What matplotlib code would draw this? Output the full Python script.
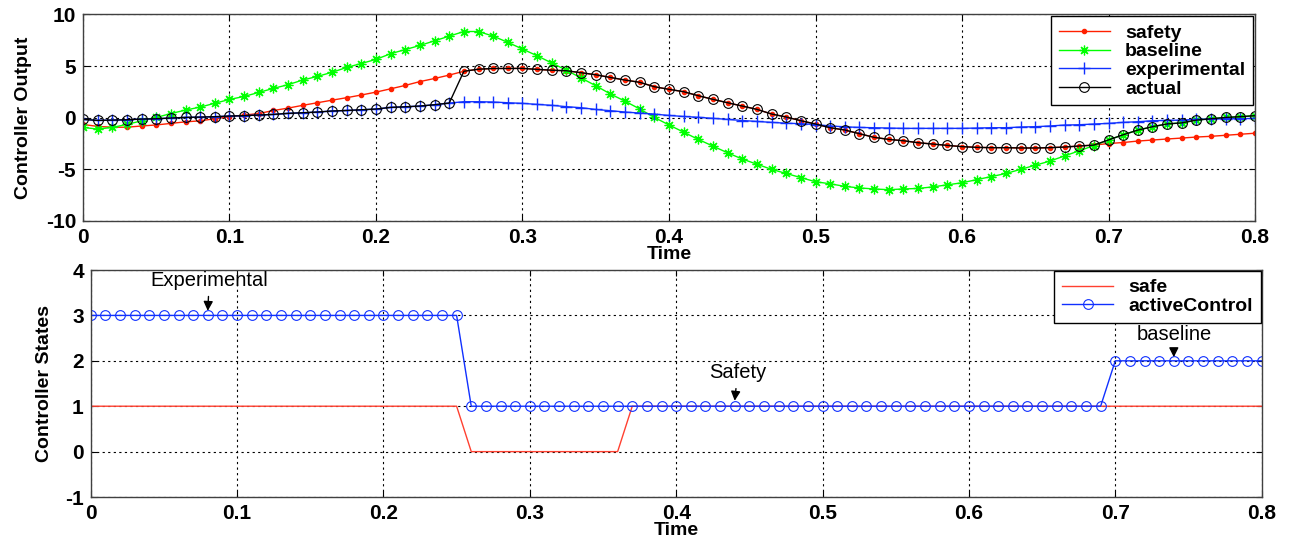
import matplotlib.pyplot as plt
import numpy as np

plt.rcParams['font.family'] = ['Liberation Sans', 'DejaVu Sans']
plt.rcParams['axes.unicode_minus'] = False

# sample times (0 .. 0.8 s, 0.01 s step)
time = np.arange(81) / 100.0

safety = [-0.65, -0.84, -0.92, -0.92, -0.80, -0.70, -0.55, -0.40, -0.30, -0.10,
          0.10, 0.26, 0.40, 0.70, 0.93, 1.20, 1.45, 1.70, 1.94, 2.20,
          2.48, 2.80, 3.13, 3.50, 3.80, 4.13, 4.50, 4.70, 4.77, 4.77,
          4.78, 4.68, 4.60, 4.55, 4.36, 4.16, 3.90, 3.65, 3.43, 3.00,
          2.75, 2.52, 2.13, 1.78, 1.45, 1.13, 0.81, 0.36, 0.07, -0.29,
          -0.61, -0.97, -1.19, -1.55, -1.90, -2.10, -2.23, -2.42, -2.55, -2.68,
          -2.80, -2.87, -2.90, -2.90, -2.93, -2.93, -2.90, -2.84, -2.74, -2.65,
          -2.50, -2.40, -2.26, -2.16, -2.06, -1.97, -1.87, -1.80, -1.70, -1.60,
          -1.50]

baseline = [-0.94, -1.10, -0.94, -0.65, -0.30, 0.03, 0.40, 0.74, 1.03, 1.40,
            1.77, 2.06, 2.45, 2.84, 3.20, 3.65, 4.00, 4.40, 4.87, 5.25,
            5.65, 6.20, 6.60, 7.00, 7.45, 7.90, 8.35, 8.35, 7.90, 7.30,
            6.65, 6.00, 5.30, 4.60, 3.85, 3.10, 2.30, 1.60, 0.85, 0.03,
            -0.70, -1.40, -2.10, -2.75, -3.40, -4.00, -4.50, -5.00, -5.40, -5.80,
            -6.20, -6.40, -6.65, -6.80, -6.90, -6.97, -6.90, -6.85, -6.70, -6.50,
            -6.30, -6.00, -5.70, -5.40, -5.00, -4.60, -4.20, -3.70, -3.20, -2.70,
            -2.15, -1.65, -1.20, -0.87, -0.60, -0.50, -0.23, -0.10, 0.03, 0.10,
            0.20]

experimental = [-0.16, -0.26, -0.23, -0.20, -0.13, -0.10, -0.03, 0.03, 0.06, 0.10,
                0.16, 0.20, 0.26, 0.32, 0.42, 0.48, 0.55, 0.65, 0.70, 0.77,
                0.84, 1.00, 1.06, 1.13, 1.26, 1.42, 1.55, 1.55, 1.52, 1.45,
                1.39, 1.29, 1.20, 1.07, 0.97, 0.80, 0.68, 0.55, 0.45, 0.35,
                0.22, 0.12, 0.04, -0.06, -0.16, -0.27, -0.36, -0.45, -0.53, -0.58,
                -0.66, -0.80, -0.88, -0.94, -0.97, -1.00, -1.03, -1.03, -1.03, -1.03,
                -1.03, -1.00, -0.97, -0.97, -0.90, -0.87, -0.80, -0.71, -0.68, -0.61,
                -0.55, -0.45, -0.39, -0.29, -0.26, -0.23, -0.16, -0.13, -0.10, -0.10,
                -0.06]

# controller states: 1 = safety, 2 = baseline, 3 = experimental
safe = [1, 1, 1, 1, 1, 1, 1, 1, 1, 1, 1, 1, 1, 1, 1, 1, 1, 1, 1, 1,
        1, 1, 1, 1, 1, 1, 0, 0, 0, 0, 0, 0, 0, 0, 0, 0, 0, 1, 1, 1,
        1, 1, 1, 1, 1, 1, 1, 1, 1, 1, 1, 1, 1, 1, 1, 1, 1, 1, 1, 1,
        1, 1, 1, 1, 1, 1, 1, 1, 1, 1, 1, 1, 1, 1, 1, 1, 1, 1, 1, 1,
        1]
activeControl = [3, 3, 3, 3, 3, 3, 3, 3, 3, 3, 3, 3, 3, 3, 3, 3, 3, 3, 3, 3,
                 3, 3, 3, 3, 3, 3, 1, 1, 1, 1, 1, 1, 1, 1, 1, 1, 1, 1, 1, 1,
                 1, 1, 1, 1, 1, 1, 1, 1, 1, 1, 1, 1, 1, 1, 1, 1, 1, 1, 1, 1,
                 1, 1, 1, 1, 1, 1, 1, 1, 1, 1, 2, 2, 2, 2, 2, 2, 2, 2, 2, 2,
                 2]

active = np.array(activeControl)
actual = np.where(active == 3, experimental,
                  np.where(active == 1, safety, baseline))

xticks = [0, 0.1, 0.2, 0.3, 0.4, 0.5, 0.6, 0.7, 0.8]
xticklabels = ['0', '0.1', '0.2', '0.3', '0.4', '0.5', '0.6', '0.7', '0.8']


def matlab_style(ax, yticks):
    ax.set_xlim(0, 0.8)
    ax.set_xticks(xticks)
    ax.set_xticklabels(xticklabels)
    ax.set_yticks(yticks)
    ax.set_ylim(yticks[0], yticks[-1])
    ax.grid(True, color='black', linestyle=(0, (2, 3)), linewidth=0.8)
    ax.tick_params(direction='in', top=True, right=True, length=4,
                   labelsize=15, pad=5)
    for lab in ax.get_xticklabels() + ax.get_yticklabels():
        lab.set_fontweight('bold')
    for sp in ax.spines.values():
        sp.set_color('#404040')
        sp.set_linewidth(1.0)


fig = plt.figure(figsize=(12.92, 5.42), dpi=100)

ax1 = fig.add_axes([0.0642, 0.5923, 0.9072, 0.381])
ax1.plot(time, safety, color='#ff2000', marker='.', markersize=6, lw=1, label='safety')
ax1.plot(time, baseline, color='#00ff00', marker=(8, 2, 0), markersize=7, mew=0.9,
         lw=1, label='baseline')
ax1.plot(time, experimental, color='#1030ff', marker='+', markersize=9, lw=1,
         label='experimental')
ax1.plot(time, actual, color='black', marker='o', markersize=7, mfc='none',
         mew=0.8, lw=1, label='actual')
matlab_style(ax1, [-10, -5, 0, 5, 10])
ax1.set_xlabel('Time', fontsize=14, fontweight='bold', labelpad=-1)
ax1.set_ylabel('Controller Output', fontsize=14, fontweight='bold', labelpad=10)
leg1 = ax1.legend(loc='upper right', prop={'weight': 'bold', 'size': 14},
                  fancybox=False, edgecolor='black', framealpha=1,
                  handlelength=2.6, borderaxespad=0.1, labelspacing=0.05)
leg1.get_frame().set_linewidth(1.0)

ax2 = fig.add_axes([0.0702, 0.0830, 0.9063, 0.4188])
ax2.plot(time, safe, color='#ff4030', lw=1, label='safe')
ax2.plot(time, activeControl, color='#1030ff', marker='o', markersize=7, mfc='none',
         mew=0.8, lw=1, label='activeControl')
matlab_style(ax2, [-1, 0, 1, 2, 3, 4])
ax2.set_xlabel('Time', fontsize=14, fontweight='bold', labelpad=-1)
ax2.set_ylabel('Controller States', fontsize=14, fontweight='bold', labelpad=9)
leg2 = ax2.legend(loc='upper right', prop={'weight': 'bold', 'size': 14},
                  fancybox=False, edgecolor='black', framealpha=1,
                  handlelength=2.6, borderaxespad=0.05, labelspacing=0.05)
leg2.get_frame().set_linewidth(1.0)

arrow = dict(arrowstyle='-|>', color='black', lw=1, mutation_scale=14,
             shrinkA=3, shrinkB=0)
ax2.annotate('Experimental', xy=(0.08, 3.1), xytext=(0.081, 3.78),
             ha='center', va='center', fontsize=14.5, arrowprops=arrow)
ax2.annotate('Safety', xy=(0.44, 1.12), xytext=(0.442, 1.75),
             ha='center', va='center', fontsize=14.5, arrowprops=arrow)
ax2.annotate('baseline', xy=(0.74, 2.08), xytext=(0.74, 2.57),
             ha='center', va='center', fontsize=14.5, arrowprops=arrow)

fig.savefig('out.png', dpi=100)
